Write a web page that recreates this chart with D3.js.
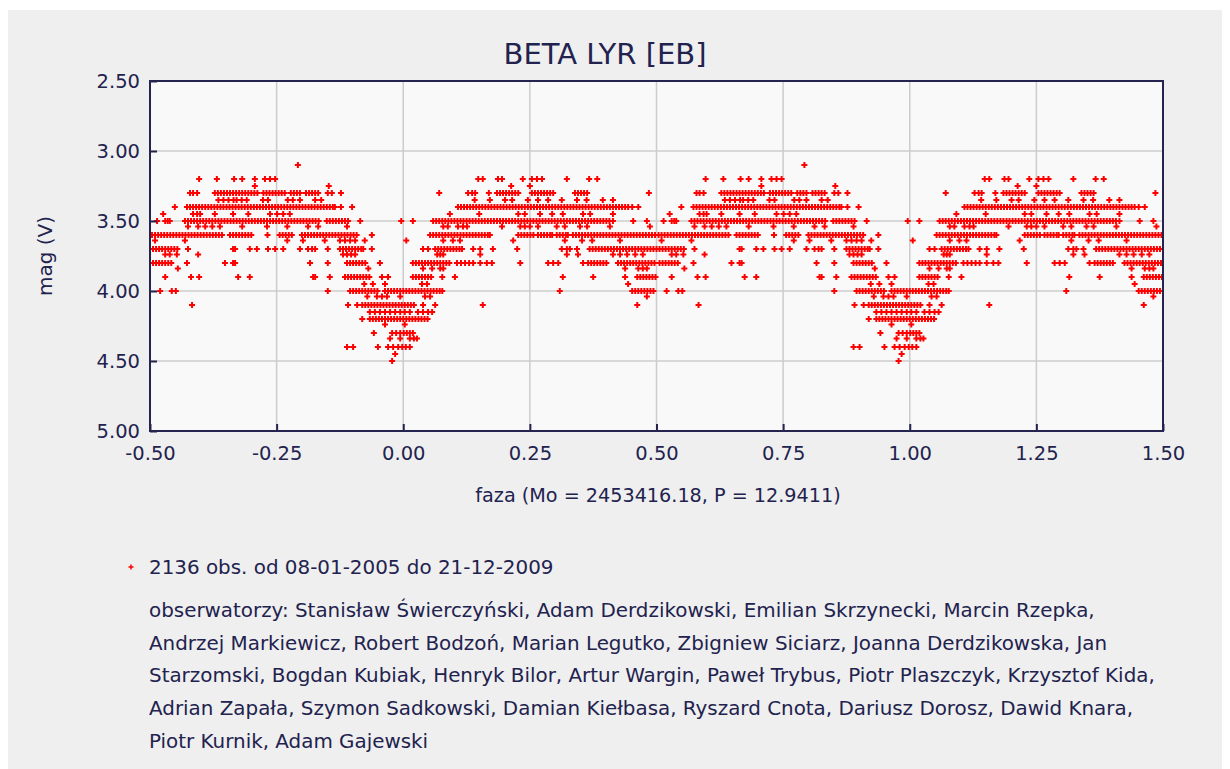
<!DOCTYPE html>
<html><head><meta charset="utf-8">
<script src="https://cdn.jsdelivr.net/npm/d3@7"></script>
<style>body{margin:0;background:#fff}svg{display:block}text{font-family:"DejaVu Sans",Verdana,sans-serif;fill:#22224e}</style>
</head><body><div id="c"></div>
<script>
// ---- data (phase in -0.5..0.5, magnitude levels) ----
const title = "BETA LYR [EB]";
const xTitle = "faza (Mo = 2453416.18, P = 12.9411)";
const yTitle = "mag (V)";
const xTicks = [-0.5,-0.25,0,0.25,0.5,0.75,1,1.25,1.5];
const yTicks = [2.5,3,3.5,4,4.5,5];
const legendText = "2136 obs. od 08-01-2005 do 21-12-2009";
const observerLines = [
"obserwatorzy: Stanisław Świerczyński, Adam Derdzikowski, Emilian Skrzynecki, Marcin Rzepka,",
"Andrzej Markiewicz, Robert Bodzoń, Marian Legutko, Zbigniew Siciarz, Joanna Derdzikowska, Jan",
"Starzomski, Bogdan Kubiak, Henryk Bilor, Artur Wargin, Paweł Trybus, Piotr Plaszczyk, Krzysztof Kida,",
"Adrian Zapała, Szymon Sadkowski, Damian Kiełbasa, Ryszard Cnota, Dariusz Dorosz, Dawid Knara,",
"Piotr Kurnik, Adam Gajewski"];
const magLevels = [3.1,3.2,3.25,3.3,3.35,3.4,3.45,3.5,3.54,3.6,3.64,3.7,3.74,3.8,3.84,3.9,3.95,4.0,4.04,4.1,4.15,4.2,4.24,4.3,4.34,4.4,4.45,4.5];
const phasesByLevel = [
/*3.1*/[-0.208],
/*3.2*/[-0.403,-0.368,-0.334,-0.318,-0.293,-0.273,-0.263,-0.253,0.148,0.157,0.187,0.195,0.236,0.254,0.264,0.274,0.323,0.367,0.383],
/*3.25*/[-0.293,-0.147,0.213,0.250],
/*3.3*/[-0.421,-0.415,-0.407,-0.372,-0.366,-0.360,-0.354,-0.348,-0.342,-0.336,-0.330,-0.324,-0.318,-0.312,-0.306,-0.300,-0.294,-0.288,-0.276,-0.270,-0.264,-0.258,-0.252,-0.246,-0.240,-0.234,-0.222,-0.216,-0.210,-0.204,-0.192,-0.186,-0.180,-0.174,-0.168,-0.149,-0.141,-0.123,0.071,0.128,0.136,0.142,0.169,0.185,0.191,0.197,0.203,0.209,0.215,0.221,0.227,0.254,0.260,0.266,0.272,0.278,0.284,0.290,0.296,0.339,0.345,0.351,0.357,0.363,0.485],
/*3.35*/[-0.365,-0.355,-0.345,-0.335,-0.329,-0.319,-0.309,-0.277,-0.267,-0.228,-0.218,-0.204,-0.174,-0.162,0.141,0.171,0.201,0.215,0.246,0.266,0.286,0.313,0.343,0.362,0.394,0.414],
/*3.4*/[-0.451,-0.427,-0.421,-0.415,-0.409,-0.403,-0.397,-0.391,-0.385,-0.379,-0.373,-0.367,-0.361,-0.355,-0.349,-0.343,-0.337,-0.331,-0.325,-0.319,-0.313,-0.307,-0.301,-0.295,-0.289,-0.283,-0.277,-0.271,-0.265,-0.259,-0.253,-0.247,-0.241,-0.235,-0.229,-0.223,-0.217,-0.211,-0.205,-0.199,-0.193,-0.187,-0.181,-0.175,-0.169,-0.163,-0.157,-0.151,-0.145,-0.139,-0.135,-0.123,-0.101,
 0.108,0.114,0.120,0.126,0.132,0.138,0.144,0.150,0.156,0.162,0.168,0.174,0.180,0.186,0.192,0.198,0.204,0.210,0.216,0.222,0.228,0.234,0.240,0.246,0.252,0.258,0.264,0.270,0.276,0.282,0.288,0.294,0.300,0.306,0.312,0.318,0.324,0.330,0.336,0.342,0.348,0.354,0.360,0.366,0.372,0.378,0.384,0.390,0.396,0.402,0.408,0.414,0.420,0.426,0.432,0.438,0.444,0.452,0.464],
/*3.45*/[-0.474,-0.415,-0.407,-0.401,-0.372,-0.336,-0.306,-0.263,-0.249,-0.237,-0.224,0.092,0.150,0.227,0.240,0.270,0.294,0.315,0.355,0.369,0.414],
/*3.5*/[-0.486,-0.470,-0.465,-0.461,-0.431,-0.425,-0.419,-0.413,-0.407,-0.401,-0.395,-0.389,-0.383,-0.377,-0.371,-0.365,-0.359,-0.353,-0.347,-0.341,-0.335,-0.329,-0.323,-0.317,-0.311,-0.305,-0.299,-0.293,-0.287,-0.281,-0.275,-0.269,-0.263,-0.257,-0.251,-0.245,-0.239,-0.233,-0.227,-0.221,-0.215,-0.209,-0.203,-0.197,-0.191,-0.185,-0.179,-0.173,-0.167,-0.151,-0.145,-0.139,-0.133,-0.127,-0.121,-0.115,-0.109,-0.085,-0.004,0.019,
 0.059,0.065,0.071,0.077,0.083,0.089,0.095,0.101,0.107,0.113,0.119,0.125,0.131,0.137,0.143,0.149,0.155,0.161,0.167,0.173,0.179,0.185,0.191,0.197,0.203,0.209,0.215,0.221,0.227,0.233,0.239,0.245,0.251,0.257,0.263,0.269,0.275,0.281,0.287,0.293,0.299,0.305,0.311,0.317,0.323,0.329,0.335,0.341,0.347,0.353,0.359,0.365,0.371,0.377,0.383,0.389,0.395,0.401,0.407,0.414,0.454,0.481],
/*3.54*/[-0.425,-0.405,-0.391,-0.377,-0.362,-0.318,-0.269,-0.229,-0.188,-0.168,-0.111,0.079,0.088,0.108,0.118,0.126,0.195,0.231,0.240,0.250,0.266,0.303,0.319,0.349,0.363,0.408,0.487],
/*3.6*/[-0.496,-0.490,-0.484,-0.478,-0.472,-0.466,-0.460,-0.454,-0.448,-0.442,-0.436,-0.430,-0.424,-0.418,-0.412,-0.406,-0.400,-0.394,-0.388,-0.382,-0.376,-0.370,-0.364,-0.358,-0.342,-0.336,-0.330,-0.324,-0.318,-0.312,-0.306,-0.300,-0.268,-0.244,-0.238,-0.232,-0.226,-0.220,-0.200,-0.194,-0.188,-0.182,-0.176,-0.170,-0.164,-0.158,-0.152,-0.146,-0.140,-0.134,-0.128,-0.122,-0.116,-0.110,-0.104,-0.098,-0.092,-0.062,
 0.053,0.059,0.065,0.071,0.077,0.083,0.089,0.095,0.101,0.107,0.113,0.119,0.125,0.131,0.137,0.143,0.149,0.155,0.161,0.167,0.171,0.227,0.233,0.239,0.245,0.251,0.257,0.266,0.272,0.278,0.284,0.290,0.294,0.303,0.309,0.315,0.321,0.325,0.335,0.341,0.347,0.353,0.359,0.365,0.371,0.377,0.383,0.389,0.395,0.401,0.407,0.413,0.419,0.425,0.431,0.437,0.443,0.449,0.455,0.461,0.467,0.473,0.479,0.485,0.491,0.497],
/*3.64*/[-0.490,-0.431,-0.229,-0.198,-0.155,-0.125,-0.115,-0.105,-0.095,-0.076,0.006,0.079,0.098,0.112,0.217,0.319,0.353,0.373,0.428],
/*3.7*/[-0.494,-0.488,-0.482,-0.476,-0.470,-0.464,-0.458,-0.452,-0.446,-0.425,-0.336,-0.332,-0.303,-0.289,-0.267,-0.253,-0.237,-0.204,-0.188,-0.180,-0.174,-0.149,-0.125,-0.119,-0.113,-0.107,-0.101,-0.095,-0.089,-0.083,-0.079,-0.062,0.039,0.049,0.063,0.069,0.075,0.081,0.087,0.093,0.099,0.105,0.111,0.116,0.138,0.152,0.177,0.225,0.313,0.323,0.329,0.343,
 0.368,0.374,0.380,0.386,0.392,0.398,0.404,0.410,0.416,0.422,0.428,0.434,0.440,0.446,0.452,0.458,0.464,0.470,0.476,0.482,0.488,0.494,0.500],
/*3.74*/[-0.470,-0.461,-0.447,-0.405,-0.119,-0.111,-0.103,-0.095,0.067,0.073,0.079,0.152,0.323,0.345,0.414,0.428,0.442,0.458,0.473],
/*3.8*/[-0.494,-0.488,-0.482,-0.476,-0.470,-0.464,-0.458,-0.427,-0.352,-0.336,-0.332,-0.184,-0.149,-0.111,-0.105,-0.099,-0.093,-0.087,-0.081,-0.075,-0.046,0.019,0.025,0.031,0.037,0.043,0.049,0.055,0.061,0.067,0.073,0.079,0.085,0.091,0.106,0.114,0.122,0.130,0.138,0.152,0.165,0.175,0.231,0.286,0.296,0.306,0.355,0.365,0.371,0.377,0.383,0.389,0.395,0.401,0.424,0.430,0.436,0.442,0.448,0.454,0.460,0.466,0.472,0.478,0.484,0.490,0.496],
/*3.84*/[-0.445,-0.069,0.039,0.057,0.073,0.079,0.438,0.464,0.473,0.481],
/*3.9*/[-0.470,-0.419,-0.403,-0.326,-0.303,-0.178,-0.174,-0.145,-0.115,-0.109,-0.103,-0.097,-0.091,-0.085,-0.079,-0.073,-0.067,-0.042,-0.030,0.019,0.025,0.031,0.037,0.043,0.049,0.055,0.077,0.102,0.315,0.375,0.438,0.462,0.468,0.474,0.480,0.486,0.492,0.498],
/*3.95*/[-0.077,-0.060,-0.036,0.037,0.047,0.444],
/*4.0*/[-0.480,-0.457,-0.449,-0.149,-0.105,-0.099,-0.093,-0.087,-0.081,-0.075,-0.069,-0.063,-0.057,-0.051,-0.036,-0.030,-0.024,-0.018,-0.012,-0.006,0.000,0.006,0.012,0.018,0.024,0.030,0.036,0.042,0.048,0.054,0.060,0.066,0.072,0.077,0.309,0.452,0.458,0.464,0.470,0.476,0.482,0.488,0.494],
/*4.04*/[-0.071,-0.052,-0.042,-0.032,-0.006,0.043,0.053,0.481],
/*4.1*/[-0.417,-0.109,-0.091,-0.081,-0.075,-0.069,-0.063,-0.057,-0.051,-0.045,-0.039,-0.033,-0.027,-0.021,-0.015,-0.009,-0.003,0.003,0.009,0.015,0.021,0.039,0.063,0.157,0.462],
/*4.15*/[-0.066,-0.056,-0.046,-0.036,-0.026,-0.016,-0.006,0.003,0.013,0.029,0.039,0.049,0.057],
/*4.2*/[-0.081,-0.066,-0.060,-0.054,-0.048,-0.042,-0.036,-0.030,-0.024,-0.018,-0.012,-0.006,0.000,0.006,0.012,0.018,0.024,0.030,0.036,0.042,0.048],
/*4.24*/[-0.036,0.003],
/*4.3*/[-0.058,-0.022,-0.014,-0.006,0.001,0.007,0.013,0.019],
/*4.34*/[-0.026,-0.006,0.013,0.021,0.027],
/*4.4*/[-0.111,-0.099,-0.050,-0.030,-0.020,-0.010,-0.002,0.005,0.013],
/*4.45*/[-0.016],
/*4.5*/[-0.022]
];

// ---- chart ----
const W = 1230, H = 769;
const M = {left:150, top:81, right:1163, bottom:431};
const svg = d3.select("#c").append("svg").attr("width",W).attr("height",H);
svg.append("rect").attr("width",W).attr("height",H).attr("fill","#fff");
svg.append("rect").attr("x",8).attr("y",10).attr("width",1214).attr("height",H-10).attr("fill","#efefef");

const x = d3.scaleLinear().domain([-0.5,1.5]).range([M.left,M.right]);
const y = d3.scaleLinear().domain([2.5,5]).range([M.top,M.bottom]);

svg.append("rect").attr("x",M.left).attr("y",M.top).attr("width",M.right-M.left).attr("height",M.bottom-M.top).attr("fill","#f9f9f9");

// grid
svg.append("g").selectAll("line").data(xTicks.slice(1,-1)).join("line")
  .attr("x1",d=>x(d)).attr("x2",d=>x(d)).attr("y1",M.top).attr("y2",M.bottom)
  .attr("stroke","#cccccc").attr("stroke-width",1.5);
svg.append("g").selectAll("line").data(yTicks.slice(1,-1)).join("line")
  .attr("y1",d=>y(d)).attr("y2",d=>y(d)).attr("x1",M.left).attr("x2",M.right)
  .attr("stroke","#cccccc").attr("stroke-width",1.5);

// points
const pts = [];
magLevels.forEach((m,i)=>phasesByLevel[i].forEach(p=>{pts.push([p,m]); pts.push([p+1,m]);}));
svg.append("clipPath").attr("id","clip").append("rect").attr("x",M.left).attr("y",M.top).attr("width",M.right-M.left).attr("height",M.bottom-M.top);
const plus = "M-3,-1h6v2h-6zM-1,-3h2v6h-2z";
svg.append("g").attr("clip-path","url(#clip)").selectAll("path").data(pts).join("path")
  .attr("d",plus).attr("transform",d=>`translate(${x(d[0])},${y(d[1])})`).attr("fill","#ff0000");

// border
svg.append("rect").attr("x",M.left).attr("y",M.top).attr("width",M.right-M.left).attr("height",M.bottom-M.top)
  .attr("fill","none").attr("stroke","#24244f").attr("stroke-width",2);

// axes
const fmt = d => d3.format(".2f")(d).replace("\u2212","-");
const yAxis = d3.axisLeft(y).tickValues(yTicks).tickFormat(fmt).tickSizeInner(-7).tickSizeOuter(0).tickPadding(10);
const gy = svg.append("g").attr("transform",`translate(${M.left},0)`).call(yAxis);
const xAxis = d3.axisBottom(x).tickValues(xTicks).tickFormat(fmt).tickSizeInner(-7).tickSizeOuter(0).tickPadding(15);
const gx = svg.append("g").attr("transform",`translate(0,${M.bottom})`).call(xAxis);
[gx,gy].forEach(g=>{g.select(".domain").remove();
  g.selectAll(".tick line").attr("stroke","#24244f").attr("stroke-width",2);
  g.selectAll(".tick text").attr("font-size",19.5).attr("font-family","DejaVu Sans").attr("fill","#22224e");});

svg.append("text").attr("x",605).attr("y",64).attr("text-anchor","middle").attr("font-size",29).text(title);
svg.append("text").attr("x",658).attr("y",502).attr("text-anchor","middle").attr("font-size",19.2).text(xTitle);
svg.append("text").attr("transform","translate(52,256) rotate(-90)").attr("text-anchor","middle").attr("font-size",20).text(yTitle);

// legend
svg.append("path").attr("d","M-2.5,-0.75h5v1.5h-5zM-0.75,-2.5h1.5v5h-1.5z").attr("transform","translate(131,567)").attr("fill","#ff0000");
svg.append("text").attr("x",149).attr("y",574).attr("font-size",19.9).text(legendText);
svg.append("g").selectAll("text").data(observerLines).join("text")
  .attr("x",149).attr("y",(d,i)=>617+i*32.7).attr("font-size",19.9).text(d=>d);
</script></body></html>
